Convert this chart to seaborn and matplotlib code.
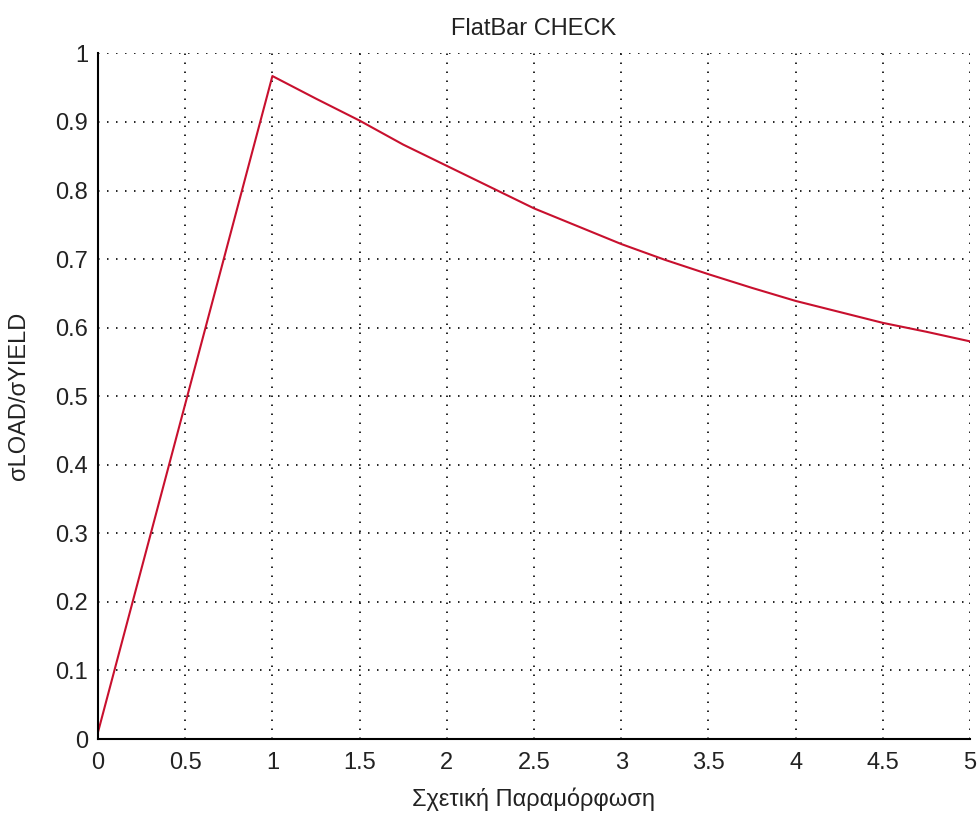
import matplotlib
matplotlib.use("Agg")
import matplotlib.pyplot as plt
from matplotlib import font_manager
import seaborn as sns
import pandas as pd

# Data
strain = [0.0, 1.0, 1.25, 1.5, 1.75, 2.0, 2.25, 2.5, 2.75, 3.0, 3.25, 3.5,
          3.75, 4.0, 4.25, 4.5, 4.75, 5.0]
stress_ratio = [0.01, 0.967, 0.934, 0.902, 0.867, 0.836, 0.805, 0.774, 0.748,
                0.722, 0.699, 0.678, 0.658, 0.639, 0.623, 0.607, 0.594, 0.580]
x_ticks = [0, 0.5, 1, 1.5, 2, 2.5, 3, 3.5, 4, 4.5, 5]
x_tick_labels = ["0", "0.5", "1", "1.5", "2", "2.5", "3", "3.5", "4", "4.5", "5"]
y_ticks = [0, 0.1, 0.2, 0.3, 0.4, 0.5, 0.6, 0.7, 0.8, 0.9, 1]
y_tick_labels = ["0", "0.1", "0.2", "0.3", "0.4", "0.5", "0.6", "0.7", "0.8", "0.9", "1"]

title = "FlatBar CHECK"
x_label = "Σχετική Παραμόρφωση"
y_label = "σLOAD/σYIELD"

sns.set_theme(style="white")
names = {f.name for f in font_manager.fontManager.ttflist}
fam = "Liberation Sans Narrow" if "Liberation Sans Narrow" in names else "Liberation Sans"
plt.rcParams["font.family"] = [fam, "DejaVu Sans"]

df = pd.DataFrame({"x": strain, "y": stress_ratio})

fig = plt.figure(figsize=(9.79, 8.13), dpi=100)
ax = fig.add_axes([0.1001, 0.091, 0.8907, 0.8433])

sns.lineplot(data=df, x="x", y="y", ax=ax, color="#c8102e", linewidth=1.5,
             sort=False, estimator=None)

ax.set_xlim(0, 5)
ax.set_ylim(0, 1)
ax.set_xticks(x_ticks)
ax.set_xticklabels(x_tick_labels)
ax.set_yticks(y_ticks)
ax.set_yticklabels(y_tick_labels)

fs = 17
ax.tick_params(axis="both", direction="in", length=6, width=1.2, colors="black",
               labelsize=fs, top=False, right=False)
ax.tick_params(axis="x", pad=9)
ax.tick_params(axis="y", pad=7)
for lbl in ax.get_xticklabels() + ax.get_yticklabels():
    lbl.set_color("#222222")

for side in ["top", "right"]:
    ax.spines[side].set_visible(False)
for side in ["left", "bottom"]:
    ax.spines[side].set_visible(True)
    ax.spines[side].set_color("black")
    ax.spines[side].set_linewidth(1.5)

ax.grid(True, color="black", linestyle=(0, (0.9, 4.5)), linewidth=1.2)
ax.set_axisbelow(True)

ax.set_title(title, fontsize=fs, pad=13, color="#222222")
ax.set_xlabel(x_label, fontsize=fs, labelpad=10, color="#222222")
ax.set_ylabel(y_label, fontsize=fs, labelpad=18, color="#222222")

fig.savefig("out.png", dpi=100, facecolor="white")
